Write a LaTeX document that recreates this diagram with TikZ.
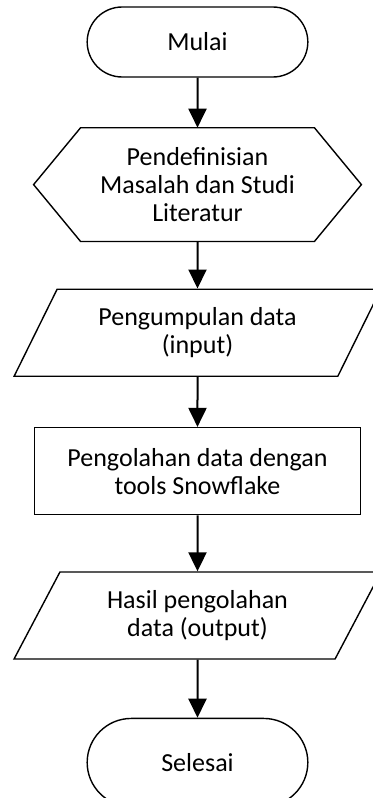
\documentclass[tikz,border=0pt]{standalone}
\usepackage{fontspec}
\setmainfont{Carlito}
\usetikzlibrary{arrows.meta, positioning, shapes.geometric, shapes.misc}

\begin{document}
\begin{tikzpicture}[
    node distance=25pt,
    font=\fontsize{13pt}{14pt}\selectfont,
    terminal/.style={
        draw,
        rounded rectangle,
        line width=0.7pt,
        minimum width=117pt,
        minimum height=35pt
    },
    proses/.style={
        draw,
        align=center,
        line width=0.7pt,
        minimum width=163pt,
        minimum height=43.5pt
    },
    data/.style={
        draw,
        trapezium,
        trapezium left angle=63,
        trapezium right angle=117,
        trapezium stretches=true,
        align=center,
        line width=0.7pt,
        minimum width=183.5pt,
        minimum height=43.5pt
    },
    persiapan/.style={
        align=center,
        minimum width=163.5pt,
        minimum height=56.5pt
    },
    arrow/.style={
        -{Triangle[length=9.5pt, width=9pt]},
        line width=1pt
    }
]

\useasboundingbox (0,0) rectangle (186pt,-399pt);

\node[terminal] (mulai) at (98.75pt,-21pt) {Mulai};

\node[persiapan, below=25pt of mulai] (masalah) {Pendefinisian\\Masalah dan Studi\\Literatur};
\draw[line width=0.7pt] ([xshift=23.5pt]masalah.north west) -- ([xshift=-23.5pt]masalah.north east)
    -- (masalah.east) -- ([xshift=-23.5pt]masalah.south east)
    -- ([xshift=23.5pt]masalah.south west) -- (masalah.west) -- cycle;

\node[data, below=23.5pt of masalah] (input) {Pengumpulan data\\(input)};

\node[proses, below=of input] (olah) {Pengolahan data dengan\\tools Snowflake};

\node[data, below=28pt of olah] (output) {Hasil pengolahan\\data (output)};

\node[terminal, minimum height=44pt, below=29pt of output] (selesai) {Selesai};

\draw[arrow] (mulai) -- (masalah);
\draw[arrow] (masalah) -- (input);
\draw[arrow] (input) -- (olah);
\draw[arrow] (olah) -- (output);
\draw[arrow] (output) -- (selesai);

\end{tikzpicture}
\end{document}
